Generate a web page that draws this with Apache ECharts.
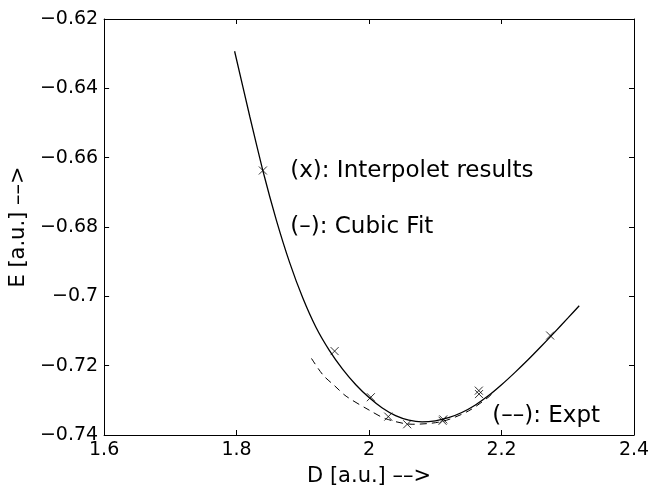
<!DOCTYPE html>
<html>
<head>
<meta charset="utf-8">
<script src="https://cdn.jsdelivr.net/npm/echarts@6/dist/echarts.min.js"></script>
<style>
  html, body { margin: 0; padding: 0; background: #fff; }
  #chart { width: 653px; height: 492px; }
</style>
</head>
<body>
<div id="chart"></div>
<script>
// Interpolet energies E (a.u.) against bond distance D (a.u.)
const interpoletD = [1.8397, 1.948, 2.0027, 2.029, 2.0576, 2.111, 2.112, 2.1657, 2.166, 2.2734];
const interpoletE = [-0.6637, -0.7158, -0.7291, -0.7347, -0.7369, -0.7359, -0.7355, -0.7272, -0.7282, -0.7113];

// Cubic fit through the interpolet results
const fitD = [1.797, 1.82, 1.84, 1.86, 1.88, 1.90, 1.92, 1.94, 1.96, 1.98, 2.0, 2.02, 2.04, 2.06, 2.08,
              2.10, 2.12, 2.14, 2.16, 2.18, 2.20, 2.22, 2.24, 2.26, 2.28, 2.30, 2.3173];
const fitE = [-0.6293, -0.6482, -0.6640, -0.6780, -0.6902, -0.7005, -0.7090, -0.7156, -0.7210, -0.7255,
              -0.7292, -0.7322, -0.7344, -0.7357, -0.7362, -0.7359, -0.7350, -0.7335, -0.7314, -0.7287,
              -0.7255, -0.7220, -0.7183, -0.7144, -0.7104, -0.7063, -0.7027];

// Experimental curve
const exptD = [1.913, 1.9305, 1.948, 1.9653, 2.0, 2.0251, 2.065, 2.11, 2.1498, 2.1822, 2.185];
const exptE = [-0.7179, -0.7227, -0.7258, -0.7288, -0.7328, -0.7353, -0.7369, -0.7361, -0.7331, -0.7288, -0.7281];

// Axis ticks
const xTicks = [1.6, 1.8, 2.0, 2.2, 2.4];
const yTicks = [-0.74, -0.72, -0.70, -0.68, -0.66, -0.64, -0.62];

// Text notes placed in data coordinates (left edge, vertical middle)
const notes = ['(x): Interpolet results', '(–): Cubic Fit', '(––): Expt'];
const noteD = [1.881, 1.881, 2.186];
const noteE = [-0.6638, -0.6800, -0.7346];

const FONT = 'DejaVu Sans';
const pairs = (xs, ys) => xs.map((x, i) => [x, ys[i]]);
const fmt = v => String(+v.toFixed(2)).replace('-', '−');

const chart = echarts.init(document.getElementById('chart'), null, { renderer: 'canvas' });

const axisLine = { show: true, lineStyle: { color: '#000', width: 1 } };
const tick = { show: true, inside: true, length: 5, lineStyle: { color: '#000', width: 1 } };

const option = {
  animation: false,
  backgroundColor: '#fff',
  grid: { left: 99, right: 19, top: 19, bottom: 51, containLabel: false },
  xAxis: [
    {
      type: 'value', min: xTicks[0], max: xTicks[xTicks.length - 1], interval: 0.2,
      axisLine, axisTick: tick, splitLine: { show: false },
      axisLabel: { formatter: fmt, fontFamily: FONT, fontSize: 19, color: '#000', margin: 6 },
      name: 'D [a.u.] ––>', nameLocation: 'middle', nameGap: 31,
      nameTextStyle: { fontFamily: FONT, fontSize: 21, color: '#000', verticalAlign: 'top' }
    },
    {
      type: 'value', position: 'top', min: xTicks[0], max: xTicks[xTicks.length - 1], interval: 0.2,
      axisLine, axisTick: tick, axisLabel: { show: false }, splitLine: { show: false }
    }
  ],
  yAxis: [
    {
      type: 'value', min: yTicks[0], max: yTicks[yTicks.length - 1], interval: 0.02,
      axisLine, axisTick: tick, splitLine: { show: false },
      axisLabel: { formatter: fmt, fontFamily: FONT, fontSize: 19, color: '#000', margin: 6 },
      name: 'E [a.u.] ––>', nameLocation: 'middle', nameGap: 67, nameRotate: 90,
      nameTextStyle: { fontFamily: FONT, fontSize: 21, color: '#000' }
    },
    {
      type: 'value', position: 'right', min: yTicks[0], max: yTicks[yTicks.length - 1], interval: 0.02,
      axisLine, axisTick: tick, axisLabel: { show: false }, splitLine: { show: false }
    }
  ],
  series: [
    {
      name: 'Cubic Fit', type: 'line', data: pairs(fitD, fitE), smooth: 0.2,
      showSymbol: false, lineStyle: { color: '#000', width: 1.3 }
    },
    {
      name: 'Expt', type: 'line', data: pairs(exptD, exptE), smooth: 0.3,
      showSymbol: false, lineStyle: { color: '#000', width: 1, type: [7, 5] }
    },
    {
      name: 'Interpolet results', type: 'scatter', data: pairs(interpoletD, interpoletE),
      symbol: 'path://M0,0L10,10M10,0L0,10', symbolSize: 8,
      itemStyle: { color: 'rgba(0,0,0,0)', borderColor: '#000', borderWidth: 1 }
    }
  ]
};
chart.setOption(option);

// Place the text notes through the axis scales
chart.setOption({
  graphic: notes.map((t, i) => {
    const p = chart.convertToPixel({ gridIndex: 0 }, [noteD[i], noteE[i]]);
    return {
      type: 'text', x: p[0], y: p[1],
      style: { text: t, fontFamily: FONT, fontSize: 23, fill: '#000', verticalAlign: 'middle' }
    };
  })
});
</script>
</body>
</html>
